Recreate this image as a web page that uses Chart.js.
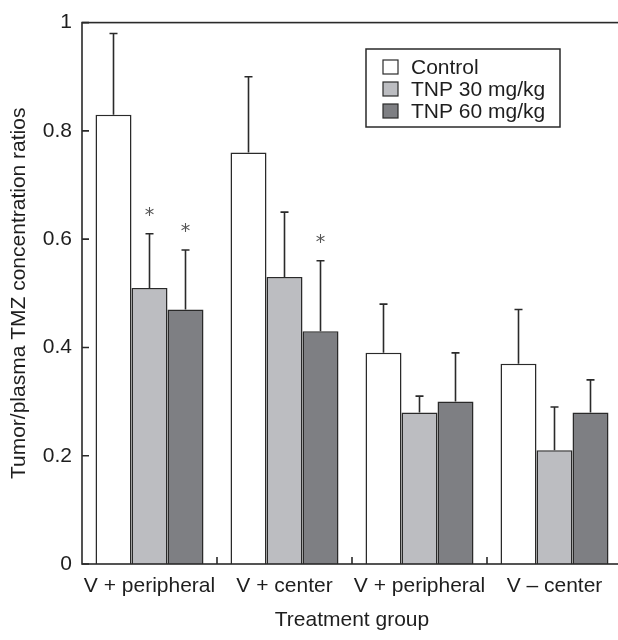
<!DOCTYPE html>
<html>
<head>
<meta charset="utf-8">
<title>Tumor/plasma TMZ ratios</title>
<script src="https://cdn.jsdelivr.net/npm/chart.js@4/dist/chart.umd.min.js"></script>
<style>
  html, body { margin: 0; padding: 0; overflow: hidden; background: #fff; }
  canvas { display: block; }
</style>
</head>
<body>
<canvas id="ratioChart" width="624" height="640"></canvas>
<script>
// treatment groups along the x axis
const groups = ['V + peripheral', 'V + center', 'V + peripheral', 'V \u2013 center'];

// mean ratios per series
const controlMeans = [0.83, 0.76, 0.39, 0.37];
const tnp30Means   = [0.51, 0.53, 0.28, 0.21];
const tnp60Means   = [0.47, 0.43, 0.30, 0.28];

// upper error (SD) per series
const controlSD = [0.15, 0.14, 0.09, 0.10];
const tnp30SD   = [0.10, 0.12, 0.03, 0.08];
const tnp60SD   = [0.11, 0.13, 0.09, 0.06];

// significance markers (*)
const controlSig = [false, false, false, false];
const tnp30Sig   = [true, false, false, false];
const tnp60Sig   = [true, true, false, false];

const yTicks = [0, 0.2, 0.4, 0.6, 0.8, 1];

const FONT = '"Liberation Sans", Arial, Helvetica, sans-serif';
const INK = '#2a2a2a';

Chart.defaults.font.family = FONT;
Chart.defaults.font.size = 21;
Chart.defaults.color = '#1e1e1e';

// box round the plot, inward ticks, error bars and stars
const decorations = {
    id: 'decorations',
    afterDatasetsDraw(chart) {
        const { ctx, chartArea: a, scales: { x, y } } = chart;
        ctx.save();

        // error bars with a small cap
        ctx.strokeStyle = INK;
        ctx.lineWidth = 1.6;
        chart.data.datasets.forEach((ds, i) => {
            const meta = chart.getDatasetMeta(i);
            meta.data.forEach((bar, j) => {
                const top = y.getPixelForValue(ds.data[j] + ds.sd[j]);
                ctx.beginPath();
                ctx.moveTo(bar.x, bar.y);
                ctx.lineTo(bar.x, top);
                ctx.moveTo(bar.x - 4, top);
                ctx.lineTo(bar.x + 4, top);
                ctx.stroke();
                if (ds.sig[j]) {
                    ctx.fillStyle = '#555';
                    ctx.font = '19px "DejaVu Sans", sans-serif';
                    ctx.textAlign = 'center';
                    ctx.textBaseline = 'middle';
                    ctx.fillText('*', bar.x, top - 18);
                }
            });
        });

        // plot frame
        ctx.strokeStyle = INK;
        ctx.lineWidth = 1.6;
        ctx.strokeRect(a.left, a.top, a.right - a.left, a.bottom - a.top);

        // y ticks pointing in
        ctx.beginPath();
        yTicks.forEach(v => {
            const py = y.getPixelForValue(v);
            ctx.moveTo(a.left, py);
            ctx.lineTo(a.left + 7, py);
        });
        // x ticks between groups, pointing up
        for (let i = 0; i < groups.length - 1; i++) {
            const px = (x.getPixelForTick(i) + x.getPixelForTick(i + 1)) / 2;
            ctx.moveTo(px, a.bottom);
            ctx.lineTo(px, a.bottom - 7);
        }
        ctx.stroke();

        // legend box
        const lx = 366, ly = 49, lw = 194, lh = 78;
        ctx.fillStyle = '#fff';
        ctx.fillRect(lx, ly, lw, lh);
        ctx.lineWidth = 1.5;
        ctx.strokeRect(lx, ly, lw, lh);
        ctx.font = '21px ' + FONT;
        ctx.textAlign = 'left';
        ctx.textBaseline = 'middle';
        chart.data.datasets.forEach((ds, i) => {
            const cy = ly + 18 + i * 22;
            ctx.fillStyle = ds.backgroundColor;
            ctx.fillRect(383, cy - 7, 15, 14);
            ctx.lineWidth = 1.2;
            ctx.strokeRect(383, cy - 7, 15, 14);
            ctx.fillStyle = '#1e1e1e';
            ctx.fillText(ds.label, 411, cy + 1);
        });

        ctx.restore();
    }
};

new Chart(document.getElementById('ratioChart'), {
    type: 'bar',
    data: {
        labels: groups,
        datasets: [
            { label: 'Control', data: controlMeans, sd: controlSD, sig: controlSig, backgroundColor: '#ffffff' },
            { label: 'TNP 30 mg/kg', data: tnp30Means, sd: tnp30SD, sig: tnp30Sig, backgroundColor: '#bcbdc1' },
            { label: 'TNP 60 mg/kg', data: tnp60Means, sd: tnp60SD, sig: tnp60Sig, backgroundColor: '#7e7f83' }
        ].map(ds => Object.assign(ds, {
            borderColor: INK,
            borderWidth: 1.5,
            barPercentage: 1,
            categoryPercentage: 0.8
        }))
    },
    options: {
        responsive: false,
        animation: false,
        layout: { padding: { top: 20, right: 2, left: 0, bottom: 0 } },
        plugins: {
            legend: { display: false },
            tooltip: { enabled: false }
        },
        scales: {
            x: {
                offset: true,
                grid: { display: false, drawTicks: false },
                border: { display: false },
                ticks: { padding: 10, maxRotation: 0, autoSkip: false },
                title: { display: true, text: 'Treatment group', padding: { top: 0, bottom: 7 } },
                afterFit: s => { s.height = 76; }
            },
            y: {
                min: 0,
                max: 1,
                grid: { display: false, drawTicks: false },
                border: { display: false },
                ticks: {
                    stepSize: 0.2,
                    padding: 10,
                    callback: v => (v === 0 || v === 1) ? String(v) : v.toFixed(1)
                },
                title: { display: true, text: 'Tumor/plasma TMZ concentration ratios', padding: { top: 7, bottom: 0 } },
                afterFit: s => { s.width = 82; }
            }
        }
    },
    plugins: [decorations]
});
</script>
</body>
</html>
